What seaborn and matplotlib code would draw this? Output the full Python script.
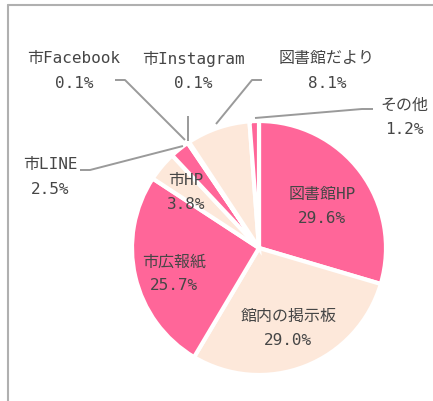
import numpy as np
import seaborn as sns
import matplotlib.pyplot as plt
from matplotlib.lines import Line2D

# Data (clockwise from 12 o'clock)
labels = ['図書館HP', '館内の掲示板', '市広報紙', '市HP', '市LINE',
          '市Facebook', '市Instagram', '図書館だより', 'その他']
values = [29.6, 29.0, 25.7, 3.8, 2.5, 0.1, 0.1, 8.1, 1.2]
inside = [True, True, True, True, False, False, False, False, False]

PINK = '#ff6699'
PEACH = '#fde8da'
colors = [PINK, PEACH, PINK, PEACH, PINK, PEACH, PINK, PEACH, PINK]

sns.set_theme(style='white')
# monospace latin / digits, CJK fallback
plt.rcParams['font.family'] = ['DejaVu Sans Mono', 'Noto Sans CJK JP']

W, H = 433, 401
fig = plt.figure(figsize=(W / 100, H / 100), dpi=100)
ax = fig.add_axes([0, 0, 1, 1])

cx, cy, R = 259, 248, 127

def py(y):
    # pixel row -> data y (y axis points up)
    return H - y

wedges, _ = ax.pie(values, colors=colors, startangle=90, counterclock=False,
                   center=(cx, py(cy)), radius=R, frame=True,
                   wedgeprops=dict(edgecolor='white', linewidth=3))
ax.set_xlim(0, W)
ax.set_ylim(0, H)
ax.set_aspect('equal')
ax.axis('off')

txt = dict(color='#464646', fontsize=11.5, ha='center', va='center', linespacing=1.75)

def polar(theta, r):
    t = np.deg2rad(theta)
    return cx + r * np.cos(t), py(cy) + r * np.sin(t)

# inside labels
in_dist = [0.62, 0.63, 0.69, 0.75]
for i, w in enumerate(wedges):
    if not inside[i]:
        continue
    mid = (w.theta1 + w.theta2) / 2
    x, y = polar(mid, R * in_dist[i])
    ax.text(x, y - 6, f'{labels[i]}\n{values[i]:.1f}%', **txt)

# outside labels: text position and leader path (elbow points, pixel coords)
outside = {
    '市LINE': ((50, 177), [(183, 146), (90, 170), (80, 170)]),
    '市Facebook': ((74, 71), [(185, 140), (125, 80), (115, 80)]),
    '市Instagram': ((193, 71), [(188, 141), (188, 116)]),
    '図書館だより': ((327, 71), [(216, 124), (252, 80), (262, 80)]),
    'その他': ((404, 117), [(255, 118), (362, 109), (373, 109)]),
}
for i, lab in enumerate(labels):
    if lab not in outside:
        continue
    (tx, ty), path = outside[lab]
    ax.text(tx, py(ty), f'{lab}\n{values[i]:.1f}%', **txt)
    xs = [p[0] for p in path]
    ys = [py(p[1]) for p in path]
    ax.plot(xs, ys, color='#9a9a9a', lw=1.4, solid_capstyle='butt')

# partial frame (top and left)
fig.add_artist(Line2D([8 / W, 1], [1 - 5 / H, 1 - 5 / H], color='#b0b0b0', lw=1.5))
fig.add_artist(Line2D([8 / W, 8 / W], [0, 1 - 5 / H], color='#b0b0b0', lw=1.5))

fig.savefig('out.png', dpi=100)
